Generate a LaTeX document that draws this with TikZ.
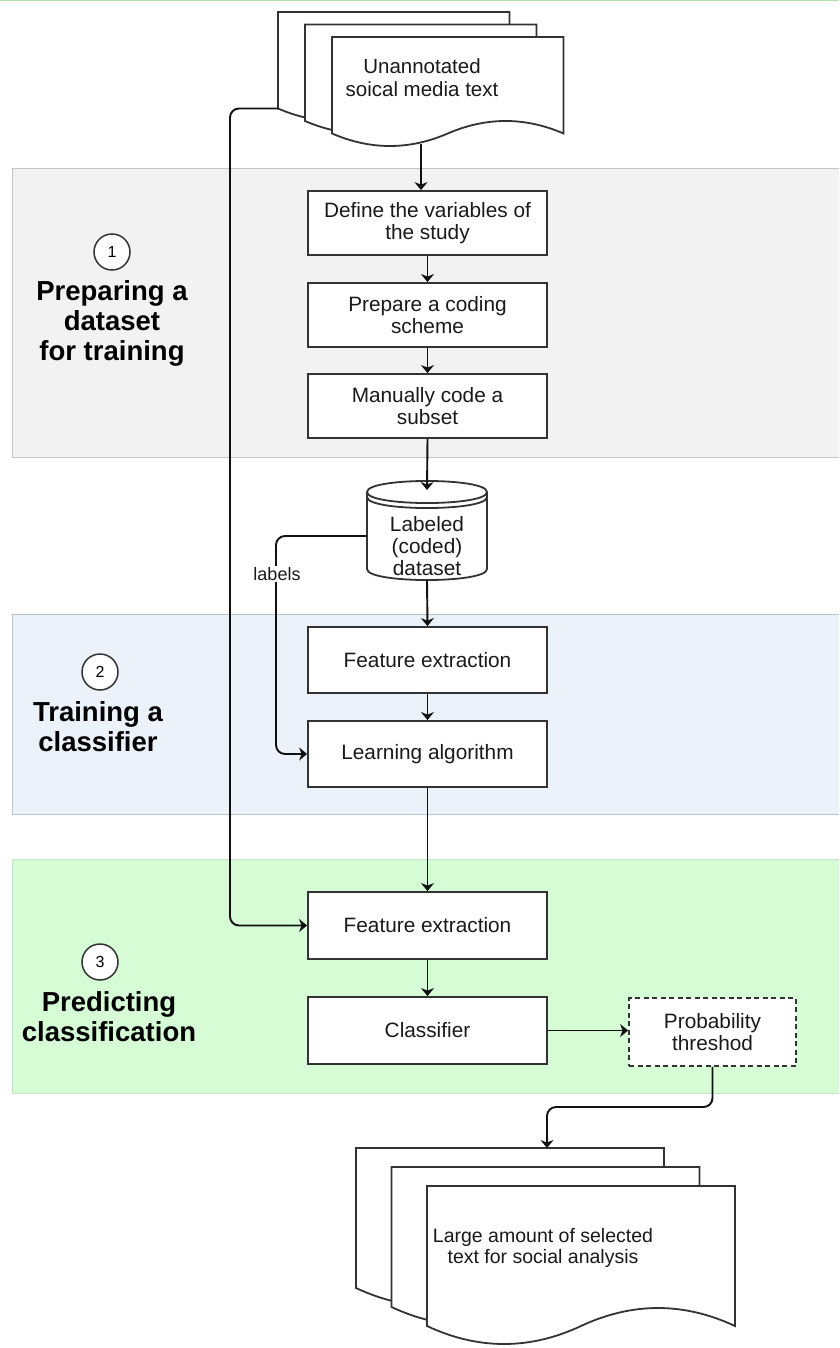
\documentclass[tikz,border=0pt]{standalone}
\usepackage{fontspec}
\setmainfont{Liberation Sans}
\usetikzlibrary{arrows.meta}

\definecolor{bandgray}{HTML}{F2F2F2}
\definecolor{bandgrayline}{HTML}{C4C4C4}
\definecolor{bandblue}{HTML}{ECF2FA}
\definecolor{bandblueline}{HTML}{BCC2C8}
\definecolor{bandgreen}{HTML}{D5FCD5}
\definecolor{bandgreenline}{HTML}{C6E4C6}
\definecolor{topgreen}{HTML}{B3E0A6}
\definecolor{inkline}{HTML}{333333}
\definecolor{inkarrow}{HTML}{111111}
\definecolor{inktext}{HTML}{1A1A1A}

\newcommand\boxfont{\fontsize{20.8}{22}\selectfont}
\newcommand\docfont{\fontsize{19.5}{21}\selectfont}
\newcommand\headfont{\fontsize{27.5}{30}\selectfont\bfseries}
\newcommand\numfont{\fontsize{16}{18}\selectfont}

% document shape with a wavy lower edge: x, y (top left), width, height, wave depth
\newcommand\docpage[5]{%
  \draw[docstyle] (#1,#2) -- ({#1+#3},#2) -- ({#1+#3},{#2+#4-#5/2})
    .. controls ({#1+5*#3/6},{#2+#4-1.1*#5}) and ({#1+2*#3/3},{#2+#4-1.1*#5}) .. ({#1+#3/2},{#2+#4-#5/2})
    .. controls ({#1+#3/3},{#2+#4+0.1*#5}) and ({#1+#3/6},{#2+#4+0.1*#5}) .. (#1,{#2+#4-#5/2}) -- cycle;}

\tikzset{
  band/.style={line width=0.8pt},
  docstyle/.style={draw=inkline, line width=1.8pt, fill=white, line join=miter},
  stepbox/.style={draw=inkline, line width=1.8pt, fill=white, minimum width=239pt,
    minimum height=64pt, align=center, font=\boxfont, text=inktext, inner sep=2pt},
  dashbox/.style={stepbox, dash pattern=on 5pt off 3.5pt, minimum width=167pt, minimum height=68pt},
  doctext/.style={align=center, font=\docfont, text=inktext, inner sep=0pt},
  headtext/.style={align=center, font=\headfont, text=black, inner sep=0pt},
  numcircle/.style={circle, draw=inkline, line width=1.5pt, fill=white, minimum size=36pt,
    inner sep=0pt, font=\numfont, text=black},
  arr/.style={draw=inkarrow, line width=1.9pt, -{Stealth[length=8pt,width=13pt,inset=2.5pt]}},
  link/.style={arr, rounded corners=9pt},
  labeltext/.style={font=\fontsize{18}{20}\selectfont, text=inktext, fill=white, inner sep=1pt}
}

\begin{document}
\begin{tikzpicture}[x=1pt,y=-1pt]
\useasboundingbox (0,0) rectangle (839,1348);
\clip (0,0) rectangle (839,1348);

% stage bands
\draw[band, draw=topgreen, line width=1.5pt] (0,0.75) -- (839,0.75);
\draw[band, fill=bandgray, draw=bandgrayline] (12,168) rectangle (860,457);
\draw[band, fill=bandblue, draw=bandblueline] (12,614) rectangle (860,814);
\draw[band, fill=bandgreen, draw=bandgreenline] (12,859) rectangle (860,1093);

% stage titles
\node[numcircle] (n1) at (112,252) {1};
\node[headtext] (h1) at (112,323) {Preparing a\\dataset\\for training};
\node[numcircle] (n2) at (100,672) {2};
\node[headtext] (h2) at (98,727) {Training a\\classifier};
\node[numcircle] (n3) at (100,962) {3};
\node[headtext] (h3) at (109,1016.5) {Predicting\\classification};

% input documents
\docpage{278}{12}{231.5}{110.4}{27.8}
\docpage{305}{24.5}{231.5}{110.4}{27.8}
\docpage{332}{37}{231.5}{110.4}{27.8}
\node[doctext, font=\fontsize{20.5}{23}\selectfont] (intext) at (422,78) {Unannotated\\soical media text};
\coordinate (inbot) at (421,144);
\coordinate (incorner) at (278,108.5);

% output documents
\docpage{356}{1148}{308}{160}{40}
\docpage{391.5}{1167}{308}{160}{40}
\docpage{427}{1186}{308}{160}{40}
\node[doctext] (outtext) at (543,1248) {Large amount of selected\\text for social analysis};
\coordinate (outtop) at (547,1148);

% process steps
\node[stepbox] (define) at (427.5,223) {Define the variables of\\the study};
\node[stepbox] (prepare) at (427.5,315) {Prepare a coding\\scheme};
\node[stepbox] (manual) at (427.5,406) {Manually code a\\subset};
\node[stepbox, minimum height=66pt] (feat1) at (427.5,660) {Feature extraction};
\node[stepbox, minimum height=66pt] (learn) at (427.5,754) {Learning algorithm};
\node[stepbox, minimum height=67pt] (feat2) at (427.5,925.5) {Feature extraction};
\node[stepbox, minimum height=67pt] (classif) at (427.5,1030.5) {Classifier};
\node[dashbox] (prob) at (712.5,1032) {Probability\\threshod};

% labeled dataset store
\draw[docstyle] (367,492) .. controls (367,477.3) and (487,477.3) .. (487,492) -- (487,569)
  .. controls (487,583.7) and (367,583.7) .. (367,569) -- cycle;
\draw[docstyle, fill=none] (367,492) .. controls (367,506.7) and (487,506.7) .. (487,492);
\draw[docstyle, fill=none] (367,497) .. controls (367,511.7) and (487,511.7) .. (487,497);
\node[doctext, font=\boxfont, text width=118pt, align=center] (db) at (427,546.5) {Labeled\\(coded)\\dataset};
\coordinate (dbtop) at (427,490);
\coordinate (dbbot) at (427,580);
\coordinate (dbleft) at (367,536);

% rails for the side connectors
\coordinate (leftrail) at (230,0);
\coordinate (labrail) at (276,0);
\coordinate (outrow) at (0,1107);

% main flow
\draw[arr] (inbot) -- (inbot |- define.north);
\draw[arr] (define) -- (prepare);
\draw[arr] (prepare) -- (manual);
\draw[arr] (manual.south) -- (dbtop);
\draw[arr] (dbbot) -- (feat1.north);
\draw[arr] (feat1) -- (learn);
\draw[arr] (learn) -- (feat2);
\draw[arr] (feat2) -- (classif);
\draw[arr] (classif.east) -- (classif.east -| prob.west);

% side connectors
\draw[link] (incorner) -- (incorner -| leftrail) -- (leftrail |- feat2.west) -- (feat2.west);
\draw[link] (dbleft) -- (dbleft -| labrail) -- (labrail |- learn.west) -- (learn.west);
\node[labeltext] (lab) at (277,574) {labels};
\draw[link] (prob.south) -- (prob.south |- outrow) -- (outrow -| outtop) -- (outtop);
\end{tikzpicture}
\end{document}
